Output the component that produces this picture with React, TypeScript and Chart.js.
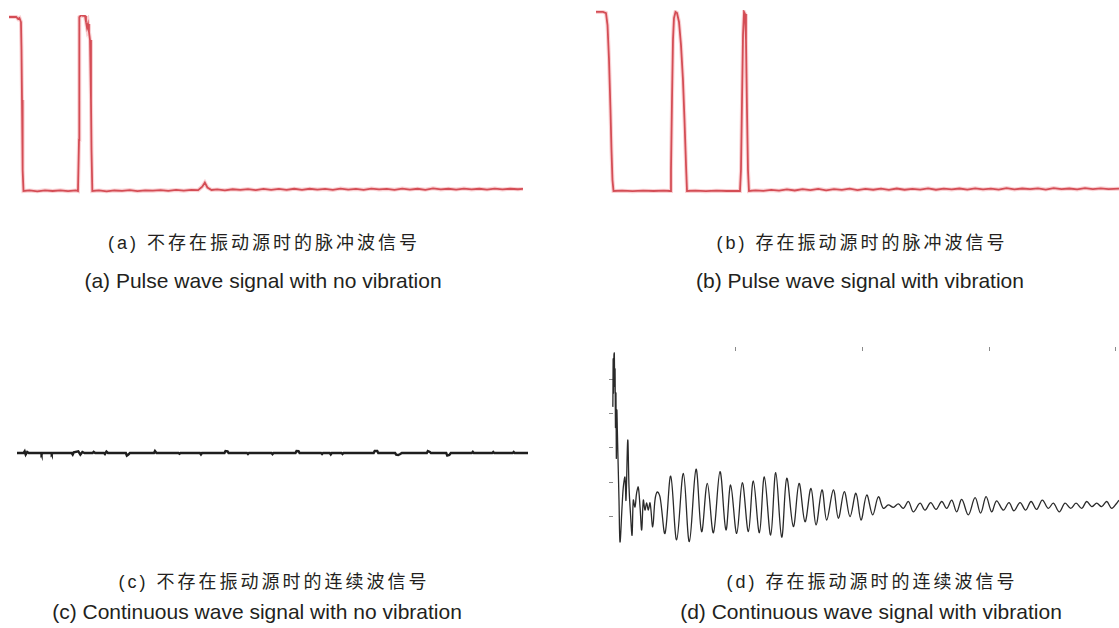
import React, { useEffect, useRef } from "react";
import { Chart, registerables } from "chart.js";

Chart.register(...registerables);

// (a) Pulse wave signal, no vibration source (time %, amplitude % of full scale)
const pulseNoVibTime = [0, 0.8, 1.4, 1.75, 2.04, 2.33, 2.43, 2.53, 2.59, 2.72, 2.82, 4, 5.5, 7, 8.5, 10, 11.5, 13, 13.42, 13.62, 13.68, 14.01, 14.4, 14.79, 14.98, 15.18, 15.37, 15.56, 15.76, 15.95, 16.05, 16.21, 17.5, 19, 20.5, 22, 23.5, 25, 26.5, 28, 29.5, 31, 32.5, 34, 35.5, 36.8, 37.6, 38.1, 38.6, 39.4, 40.5, 42, 43.5, 45, 46.5, 48, 49.5, 51, 52.5, 54, 55.5, 57, 58.5, 60, 61.5, 63, 64.5, 66, 67.5, 69, 70.5, 72, 73.5, 75, 76.5, 78, 79.5, 81, 82.5, 84, 85.5, 87, 88.5, 90, 91.5, 93, 94.5, 96, 97.5, 99, 100];
const pulseNoVibAmp = [100, 100, 100, 98.9, 99.4, 97.1, 81, 52.3, 26.4, 12, 0, 0.3, -0.2, 0.4, 0, 0.4, -0.1, 0.3, 0, 29.3, 100, 101, 100.6, 100.6, 97.1, 93.7, 96, 91.4, 86.8, 52.3, 23.6, 0, 0.3, -0.2, 0.3, 0.1, 0.5, -0.1, 0.3, 0.2, 0.5, 0.1, 0.6, 0.2, 0.7, 0.5, 2.5, 4.8, 2.0, 0.6, 0.9, 0.4, 1.0, 0.6, 1.1, 0.5, 1.2, 0.7, 1.2, 0.6, 1.3, 0.7, 1.3, 0.8, 1.2, 0.6, 1.4, 0.8, 1.2, 0.7, 1.4, 0.9, 1.2, 0.7, 1.4, 0.8, 1.3, 0.7, 1.5, 0.9, 1.3, 0.8, 1.4, 0.9, 1.3, 0.8, 1.4, 0.9, 1.3, 1.0, 1.2];

// (b) Pulse wave signal, with vibration source
const pulseVibTime = [0, 1.34, 1.91, 2.2, 2.49, 2.77, 2.96, 3.15, 3.35, 5, 7, 9, 11, 13, 14.15, 14.34, 14.53, 14.72, 14.91, 15.2, 15.49, 15.87, 16.25, 16.63, 16.92, 17.21, 17.4, 19, 21, 23, 25, 27.53, 27.72, 27.92, 28.11, 28.3, 28.49, 28.68, 28.87, 29.06, 29.25, 30.5, 32, 33.5, 35, 36.5, 38, 39.5, 41, 42.5, 44, 45.5, 47, 48.5, 50, 51.5, 53, 54.5, 56, 57.5, 59, 60.5, 62, 63.5, 65, 66.5, 68, 69.5, 71, 72.5, 74, 75.5, 77, 78.5, 80, 81.5, 83, 84.5, 86, 87.5, 89, 90.5, 92, 93.5, 95, 96.5, 98, 100];
const pulseVibAmp = [100, 100, 99.4, 92.7, 73.2, 45.3, 22.9, 6.1, 0, 0.2, -0.1, 0.2, 0, 0.2, 0, 11.7, 50.8, 84.4, 96.6, 100, 99.4, 94.4, 81.6, 62, 39.7, 14.5, 0, 0.2, -0.1, 0.2, 0, 0, 11.7, 50.8, 87.2, 100, 98.9, 84.4, 45.3, 11.7, 0, 0.3, 0.1, 0.6, 0.2, 0.9, 0.3, 1.0, 0.5, 1.2, 0.4, 1.1, 0.6, 1.3, 0.5, 1.2, 0.7, 1.3, 0.6, 1.4, 0.7, 1.2, 0.8, 1.5, 0.7, 1.3, 0.9, 1.4, 0.8, 1.5, 0.9, 1.3, 0.8, 1.6, 0.9, 1.4, 1.0, 1.5, 0.8, 1.6, 1.0, 1.4, 0.9, 1.6, 1.0, 1.5, 1.1, 1.3];

// (c) Continuous wave signal, no vibration source
const contNoVibTime = [0, 1.3, 1.5, 1.7, 2.0, 2.3, 4.7, 4.8, 5.0, 6.7, 6.8, 7.0, 10.7, 10.9, 11.1, 12.0, 12.4, 12.8, 13.2, 14.8, 15.0, 15.3, 17.0, 17.2, 17.5, 17.8, 21.3, 21.5, 21.8, 22.1, 26.8, 27.0, 27.3, 31.6, 31.8, 32.0, 35.8, 36.0, 36.2, 40.6, 40.8, 41.2, 41.4, 45.0, 45.2, 45.4, 49.8, 50.0, 50.2, 54.5, 54.7, 55.1, 55.3, 59.5, 59.7, 59.9, 61.2, 61.4, 61.6, 63.5, 63.7, 63.9, 69.8, 70.0, 70.5, 70.7, 74.0, 74.2, 74.6, 75.0, 75.3, 80.2, 80.4, 80.8, 81.0, 84.0, 84.2, 84.6, 84.9, 89.0, 89.2, 89.4, 93.0, 93.2, 93.4, 97.0, 97.2, 97.4, 100];
const contNoVibAmp = [0, 0, 0.8, -0.8, 0.5, 0, 0, -0.7, 0, 0, -0.6, 0, 0, -0.8, 0.3, 0.8, -0.8, 0.5, 0, 0, 0.6, 0, 0, -0.5, 0.7, 0, 0, -1.3, -0.8, 0, 0, 1.0, 0, 0, -0.4, 0, 0, -0.7, 0, 0, 1.0, 0.8, 0, 0, -0.5, 0, 0, -0.6, 0, 0, 1.0, 0.9, 0, 0, -0.5, 0, 0, -0.7, 0, 0, -0.5, 0, 0, 1.0, 1.0, 0, 0, -0.8, -1.0, -0.5, 0, 0, 1.0, 0.5, 0, 0, -1.3, -1.0, 0, 0, 0.6, 0, 0, 0.5, 0, 0, 0.5, 0, 0];

// (d) Continuous wave signal, with vibration source
const contVibTime = [0, 0.03, 0.06, 0.09, 0.12, 0.15, 0.18, 0.21, 0.24, 0.27, 0.3, 0.33, 0.36, 0.39, 0.42, 0.45, 0.48, 0.51, 0.55, 0.58, 0.62, 0.66, 0.71, 0.79, 0.87, 1.03, 1.13, 1.26, 1.34, 1.48, 1.58, 1.71, 1.82, 1.92, 2.05, 2.18, 2.31, 2.45, 2.58, 2.71, 2.84, 2.97, 3.1, 3.24, 3.45, 3.63, 3.81, 4.03, 4.42, 4.87, 5.34, 5.87, 6.34, 6.87, 7.31, 7.76, 8.24, 8.76, 9.23, 9.6, 10.08, 10.52, 11.0, 11.39, 11.87, 12.26, 12.76, 13.16, 13.63, 14.03, 14.55, 15.0, 15.47, 15.94, 16.34, 16.81, 17.18, 17.71, 18.1, 18.57, 19.02, 19.49, 19.89, 20.34, 20.81, 21.26, 21.65, 22.05, 22.44, 22.84, 23.23, 23.63, 24.02, 24.55, 24.94, 25.39, 25.81, 26.26, 26.65, 27.05, 27.44, 27.84, 28.36, 28.89, 29.33, 29.76, 30.2, 30.59, 31.12, 31.57, 31.96, 32.44, 32.88, 33.31, 33.75, 34.2, 34.67, 35.07, 35.54, 35.99, 36.44, 36.86, 37.31, 37.7, 38.1, 38.49, 38.88, 39.28, 39.67, 40.07, 40.25];
const contVibAmp = [-0.93, 0.2, -0.6, 0.8, -0.2, 1.5, 0.3, 2.0, 0.8, 2.4, 1.2, 2.6, 1.6, 2.7, 2.77, 1.8, 2.3, 0.6, 1.6, -0.3, 1.1, 0.5, -0.3, -1.52, -2.74, -1.72, -1.14, -0.85, -1.52, 0.23, -1.14, -2.0, -2.54, -1.52, -1.72, -1.31, -1.14, -1.72, -2.39, -1.52, -1.81, -1.6, -1.81, -1.6, -2.3, -1.52, -1.28, -1.43, -2.49, -0.82, -2.68, -0.74, -2.73, -0.62, -2.44, -1.03, -2.47, -0.69, -2.39, -1.08, -2.49, -1.01, -2.44, -0.96, -2.47, -0.84, -2.54, -0.72, -2.6, -0.88, -2.29, -1.03, -2.15, -1.18, -2.24, -1.22, -2.1, -1.22, -2.05, -1.27, -2.0, -1.32, -2.1, -1.37, -1.95, -1.42, -1.76, -1.66, -1.73, -1.63, -1.76, -1.56, -1.86, -1.61, -1.81, -1.59, -1.79, -1.56, -1.76, -1.52, -1.86, -1.5, -1.95, -1.45, -1.9, -1.42, -1.86, -1.54, -1.81, -1.59, -1.83, -1.59, -1.81, -1.56, -1.79, -1.52, -1.76, -1.61, -1.86, -1.61, -1.76, -1.61, -1.76, -1.56, -1.71, -1.61, -1.71, -1.56, -1.76, -1.61, -1.52];
const contVibXTicks = [10, 20, 30, 40];
const contVibYTicks = [-2, -1, 0, 1, 2];

// Captions
const captionsCN = ["(a) 不存在振动源时的脉冲波信号", "(b) 存在振动源时的脉冲波信号", "(c) 不存在振动源时的连续波信号", "(d) 存在振动源时的连续波信号"];
const captionsEN = ["(a) Pulse wave signal with no vibration", "(b) Pulse wave signal with vibration", "(c) Continuous wave signal with no vibration", "(d) Continuous wave signal with vibration"];

const toPoints = (t: number[], v: number[]) => t.map((x, i) => ({ x, y: v[i] }));

type PanelProps = {
  left: number; top: number; width: number; height: number;
  build: () => any;
};

function Panel({ left, top, width, height, build }: PanelProps) {
  const ref = useRef<HTMLCanvasElement | null>(null);
  useEffect(() => {
    if (!ref.current) return;
    const chart = new Chart(ref.current, build());
    return () => chart.destroy();
  }, []);
  return (
    <canvas
      ref={ref}
      width={width}
      height={height}
      style={{ position: "absolute", left, top, width, height }}
    />
  );
}

const baseOptions = (xMin: number, xMax: number, yMin: number, yMax: number) => ({
  animation: false,
  responsive: false,
  devicePixelRatio: 1,
  events: [],
  layout: { padding: 0 },
  plugins: { legend: { display: false }, tooltip: { enabled: false } },
  elements: { point: { radius: 0 } },
  scales: {
    x: { type: "linear", display: false, min: xMin, max: xMax },
    y: { type: "linear", display: false, min: yMin, max: yMax },
  },
});

const pulseConfig = (t: number[], v: number[], yMin: number, yMax: number) => ({
  type: "line",
  data: {
    datasets: [
      { data: toPoints(t, v), borderColor: "rgba(242,140,148,0.4)", borderWidth: 4, tension: 0 },
      { data: toPoints(t, v), borderColor: "#c0242c", borderWidth: 1.8, tension: 0 },
    ],
  },
  options: baseOptions(0, 100, yMin, yMax),
});

const contNoVibConfig = () => ({
  type: "line",
  data: {
    datasets: [{ data: toPoints(contNoVibTime, contNoVibAmp), borderColor: "#1e1e1e", borderWidth: 2.4, tension: 0 }],
  },
  options: baseOptions(0, 100, -10, 10),
});

const tickGrid = { display: true, drawOnChartArea: false, drawTicks: true, tickLength: 4, color: "#8a8a8a", lineWidth: 1 };

const contVibConfig = () => {
  const opts: any = baseOptions(0.316, 40.25, -2.974, 2.828);
  opts.layout = { padding: { left: 4 } };
  opts.scales = {
    x: {
      type: "linear", position: "top", min: 0.316, max: 40.25,
      grid: tickGrid, border: { display: false }, ticks: { display: false },
      afterBuildTicks: (s: any) => { s.ticks = contVibXTicks.map((value) => ({ value })); },
    },
    y: {
      type: "linear", position: "left", min: -2.974, max: 2.828,
      grid: tickGrid, border: { display: false }, ticks: { display: false },
      afterBuildTicks: (s: any) => { s.ticks = contVibYTicks.map((value) => ({ value })); },
    },
  };
  return {
    type: "line",
    data: {
      datasets: [{ data: toPoints(contVibTime, contVibAmp), borderColor: "#2a2a2a", borderWidth: 1.3, tension: 0.35, clip: false }],
    },
    options: opts,
  };
};

const cnStyle = (center: number, top: number): React.CSSProperties => ({
  position: "absolute", left: center - 300, width: 600, top, textAlign: "center",
  fontFamily: "'Liberation Sans', 'Noto Sans CJK SC', sans-serif", fontSize: 18,
  letterSpacing: "3px", lineHeight: "24px", color: "#231f20", whiteSpace: "nowrap",
});
const enStyle = (center: number, top: number): React.CSSProperties => ({
  position: "absolute", left: center - 300, width: 600, top, textAlign: "center",
  fontFamily: "'Liberation Sans', Arial, sans-serif", fontSize: 21,
  lineHeight: "24px", color: "#231f20", whiteSpace: "nowrap",
});

export default function App() {
  return (
    <div style={{ position: "fixed", left: 0, top: 0, width: 1119, height: 628, background: "#ffffff", overflow: "hidden" }}>
      <Panel left={9} top={15} width={514} height={180}
        build={() => pulseConfig(pulseNoVibTime, pulseNoVibAmp, -2.3, 101.15)} />
      <Panel left={596} top={10} width={523} height={185}
        build={() => pulseConfig(pulseVibTime, pulseVibAmp, -2.23, 101.1)} />
      <Panel left={17} top={433} width={511} height={40} build={contNoVibConfig} />
      <Panel left={605} top={347} width={514} height={203} build={contVibConfig} />

      <div style={cnStyle(264, 231)}>{captionsCN[0]}</div>
      <div style={enStyle(263, 269)}>{captionsEN[0]}</div>
      <div style={cnStyle(862, 231)}>{captionsCN[1]}</div>
      <div style={enStyle(860, 269)}>{captionsEN[1]}</div>
      <div style={cnStyle(274, 570)}>{captionsCN[2]}</div>
      <div style={enStyle(257, 600)}>{captionsEN[2]}</div>
      <div style={cnStyle(872, 570)}>{captionsCN[3]}</div>
      <div style={enStyle(871, 600)}>{captionsEN[3]}</div>
    </div>
  );
}
